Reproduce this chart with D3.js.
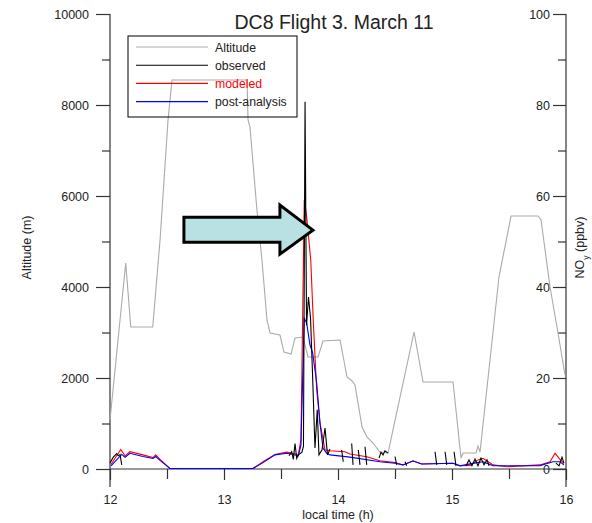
<!DOCTYPE html>
<html>
<head>
<meta charset="utf-8">
<script src="https://cdn.jsdelivr.net/npm/d3@7"></script>
<style>
  body { margin: 0; background: #fff; }
  text { font-family: "Liberation Sans", Arial, sans-serif; fill: #222; }
  .axis path, .axis line { stroke: #333; stroke-width: 1.2; }
</style>
</head>
<body>
<div id="graphic"></div>
<script>
// altitude (m) against local time (h)
var altitude = [
  [12.000, 1077], [12.138, 4527], [12.182, 3121], [12.375, 3121], [12.439, 5033],
  [12.509, 7670], [12.544, 8550], [13.202, 8550], [13.211, 7670], [13.228, 7516],
  [13.289, 5692], [13.333, 4593], [13.377, 3275], [13.404, 2989], [13.491, 2945],
  [13.526, 2571], [13.588, 2527], [13.623, 2879], [13.693, 2901], [13.737, 2462],
  [13.825, 2462], [13.868, 2813], [14.018, 2835], [14.079, 2022], [14.123, 1934],
  [14.149, 1846], [14.211, 923], [14.254, 703], [14.307, 571], [14.368, 374],
  [14.439, 352], [14.667, 3011], [14.746, 1912], [15.009, 1912], [15.079, 242],
  [15.096, 352], [15.211, 352], [15.228, 505], [15.246, 374], [15.412, 4220],
  [15.518, 5560], [15.754, 5560], [15.781, 5473], [15.860, 4000], [15.930, 2989],
  [15.991, 2066]
];

// NOy (ppbv), observed; null marks a gap in the record
var observed = [
  [12.000, 1.3], [12.029, 2.6], [12.059, 3.4], [12.073, 2.9], [12.088, 3.2], [12.103, 0.9], [12.11, null],
  [13.570, 2.9], [13.594, 3.8], [13.608, 2.1], [13.623, 5.6], [13.638, 2.3], [13.652, 3.1],
  [13.684, 3.7], [13.697, 5.0], [13.711, 80.7], [13.724, 31.6], [13.741, 37.8], [13.759, 33.2],
  [13.776, 21.3], [13.798, 4.6], [13.818, 13.0], [13.833, 3.1], [13.860, 4.2], [13.886, 9.0],
  [13.908, 3.1], [13.930, 4.4], [13.94, null],
  [14.032, 4.2], [14.046, 1.6], [14.05, null],
  [14.120, 5.6], [14.132, 0.9], [14.14, null],
  [14.178, 4.2], [14.193, 0.9], [14.20, null],
  [14.237, 4.9], [14.252, 0.9], [14.26, null],
  [14.360, 2.4], [14.377, 3.7], [14.395, 3.1], [14.412, 4.0], [14.439, 3.5], [14.45, null],
  [14.500, 2.7], [14.515, 0.9], [14.52, null],
  [14.588, 1.6], [14.603, 0.7], [14.61, null],
  [14.851, 3.8], [14.866, 0.9], [14.87, null],
  [14.939, 3.8], [14.954, 0.9], [14.96, null],
  [15.018, 3.8], [15.035, 0.7], [15.04, null],
  [15.123, 0.7], [15.149, 2.0], [15.175, 0.7], [15.202, 2.2], [15.228, 0.7], [15.254, 2.4],
  [15.281, 0.9], [15.307, 2.0], [15.325, 0.7], [15.33, null],
  [15.912, 1.3], [15.939, 0.7], [15.965, 2.6], [15.982, 1.3]
];

var modeled = [
  [12.009, 1.0], [12.094, 4.3], [12.132, 2.9], [12.175, 3.8], [12.289, 3.1], [12.377, 2.5],
  [12.401, 3.1], [12.439, 2.1], [12.526, 0.1], [13.254, 0.1], [13.342, 1.6], [13.447, 3.2],
  [13.550, 3.7], [13.608, 3.4], [13.652, 3.2], [13.675, 6.4], [13.704, 59.1], [13.725, 55.5],
  [13.761, 45.9], [13.784, 32.1], [13.813, 17.4], [13.842, 10.1], [13.886, 4.2], [13.930, 4.0],
  [14.061, 3.8], [14.105, 3.3], [14.252, 2.7], [14.368, 1.8], [14.500, 1.4], [14.570, 0.9],
  [14.658, 1.8], [14.734, 1.1], [15.009, 1.25], [15.070, 0.7], [15.158, 0.8], [15.228, 2.0],
  [15.272, 2.35], [15.360, 0.9], [15.482, 0.5], [15.772, 0.9], [15.860, 1.6], [15.904, 3.45],
  [15.947, 2.1], [15.982, 1.25]
];

var postAnalysis = [
  [12.009, 0.7], [12.103, 3.2], [12.132, 2.6], [12.175, 3.45], [12.289, 2.75], [12.377, 2.3],
  [12.401, 2.75], [12.439, 1.9], [12.526, 0.1], [13.254, 0.1], [13.342, 1.4], [13.447, 3.1],
  [13.550, 3.45], [13.608, 3.2], [13.652, 2.9], [13.675, 5.3], [13.704, 33.1], [13.725, 32.1],
  [13.754, 27.3], [13.778, 25.5], [13.813, 18.9], [13.842, 10.1], [13.868, 4.6], [13.901, 3.45],
  [13.930, 3.1], [14.105, 2.6], [14.368, 1.6], [14.500, 1.25], [14.570, 0.9], [14.658, 1.76],
  [14.734, 1.1], [15.009, 1.25], [15.070, 0.7], [15.217, 1.4], [15.272, 1.6], [15.360, 0.7],
  [15.772, 0.75], [15.886, 1.6], [15.947, 1.6], [15.982, 0.9]
];

var timeTicks = [12, 13, 14, 15, 16];
var timeMinor = [12.5, 13.5, 14.5, 15.5];
var altTicks = [0, 2000, 4000, 6000, 8000, 10000];
var altMinor = [1000, 3000, 5000, 7000, 9000];
var noyTicks = [0, 20, 40, 60, 80, 100];
var noyMinor = [10, 30, 50, 70, 90];

var legendItems = [
  { name: "Altitude", colour: "#aaaaaa", text: "#222" },
  { name: "observed", colour: "#000000", text: "#222" },
  { name: "modeled", colour: "#ff0000", text: "#ff0000" },
  { name: "post-analysis", colour: "#0000ff", text: "#222" }
];

// arrow pointing at the spike: tip position in data units
var arrowTip = [13.78, 5250];

var width = 592, height = 523;
var margin = { top: 14, right: 26, bottom: 54, left: 110 };

var svg = d3.select('#graphic').append('svg')
  .attr('width', width)
  .attr('height', height);

var x = d3.scaleLinear().domain([12, 16]).range([margin.left, width - margin.right]);
var yAlt = d3.scaleLinear().domain([0, 10000]).range([height - margin.bottom, margin.top]);
var yNoy = d3.scaleLinear().domain([0, 100]).range([height - margin.bottom, margin.top]);

var x0 = x.range()[0], x1 = x.range()[1];
var yBase = yAlt(0), yTop = yAlt(10000);

// axes
svg.append('g').attr('class', 'axis')
  .attr('transform', 'translate(' + x0 + ',0)')
  .call(d3.axisLeft(yAlt).tickValues(altTicks).tickSize(14).tickPadding(7).tickFormat(d3.format('d')))
  .call(g => g.select('.domain').remove())
  .selectAll('text').style('font-size', '12.5px').attr('fill', '#222');
svg.append('g').attr('class', 'axis')
  .attr('transform', 'translate(' + x0 + ',0)')
  .call(d3.axisLeft(yAlt).tickValues(altMinor).tickSize(8).tickFormat(''))
  .call(g => g.select('.domain').remove());

svg.append('g').attr('class', 'axis')
  .attr('transform', 'translate(' + x1 + ',0)')
  .call(d3.axisLeft(yNoy).tickValues(noyTicks).tickSize(13).tickPadding(3))
  .call(g => g.select('.domain').remove())
  .selectAll('text').style('font-size', '12.5px').attr('fill', '#222');
svg.append('g').attr('class', 'axis')
  .attr('transform', 'translate(' + x1 + ',0)')
  .call(d3.axisLeft(yNoy).tickValues(noyMinor).tickSize(8).tickFormat(''))
  .call(g => g.select('.domain').remove());

svg.append('g').attr('class', 'axis')
  .attr('transform', 'translate(0,' + yBase + ')')
  .call(d3.axisBottom(x).tickValues(timeTicks).tickSize(11).tickPadding(15).tickFormat(d3.format('d')))
  .call(g => g.select('.domain').remove())
  .selectAll('text').style('font-size', '12.5px').attr('fill', '#222');
svg.append('g').attr('class', 'axis')
  .attr('transform', 'translate(0,' + yBase + ')')
  .call(d3.axisBottom(x).tickValues(timeMinor).tickSize(10).tickFormat(''))
  .call(g => g.select('.domain').remove());

// axis lines (the verticals run a little below the baseline)
svg.append('line').attr('x1', x0).attr('x2', x1).attr('y1', yBase).attr('y2', yBase)
  .attr('stroke', '#333').attr('stroke-width', 1.2);
[x0, x1].forEach(function(xx) {
  svg.append('line').attr('x1', xx).attr('x2', xx).attr('y1', yTop).attr('y2', yBase + 18)
    .attr('stroke', '#333').attr('stroke-width', 1.2);
});

// axis titles
svg.append('text')
  .attr('transform', 'translate(31,' + (yAlt(5000) + 6) + ') rotate(-90)')
  .attr('text-anchor', 'middle')
  .style('font-size', '12.5px')
  .text('Altitude (m)');

var noyLabel = svg.append('text')
  .attr('transform', 'translate(584,' + (yNoy(50) + 6) + ') rotate(-90)')
  .attr('text-anchor', 'middle')
  .style('font-size', '12.5px');
noyLabel.append('tspan').text('NO');
noyLabel.append('tspan').attr('baseline-shift', 'sub').style('font-size', '8.5px').text('y');
noyLabel.append('tspan').text(' (ppbv)');

svg.append('text')
  .attr('x', x(14)).attr('y', 519)
  .attr('text-anchor', 'middle')
  .style('font-size', '12.5px')
  .text('local time (h)');

svg.append('text')
  .attr('x', 334).attr('y', 29)
  .attr('text-anchor', 'middle')
  .style('font-size', '19.5px')
  .text('DC8 Flight 3. March 11');

// lines
var altLine = d3.line().x(d => x(d[0])).y(d => yAlt(d[1]));
var noyLine = d3.line()
  .defined(d => d[1] !== null)
  .x(d => x(d[0])).y(d => yNoy(d[1]));

svg.append('path').datum(altitude)
  .attr('d', altLine).attr('fill', 'none').attr('stroke', '#aaaaaa').attr('stroke-width', 1.1);

svg.append('path').datum(modeled)
  .attr('d', noyLine).attr('fill', 'none').attr('stroke', '#ff0000').attr('stroke-width', 1.1);

svg.append('path').datum(postAnalysis)
  .attr('d', noyLine).attr('fill', 'none').attr('stroke', '#0000ff').attr('stroke-width', 1.1);

svg.append('path').datum(observed)
  .attr('d', noyLine).attr('fill', 'none').attr('stroke', '#000000').attr('stroke-width', 1.1);

// legend
var legend = svg.append('g').attr('transform', 'translate(128,36)');
legend.append('rect')
  .attr('width', 169).attr('height', 81)
  .attr('fill', 'none').attr('stroke', '#000').attr('stroke-width', 1);
legend.selectAll('line.key')
  .data(legendItems)
  .join('line')
  .attr('class', 'key')
  .attr('x1', 8).attr('x2', 80)
  .attr('y1', (d, i) => 11 + i * 18.2).attr('y2', (d, i) => 11 + i * 18.2)
  .attr('stroke', d => d.colour).attr('stroke-width', 1.1);
legend.selectAll('text.key')
  .data(legendItems)
  .join('text')
  .attr('class', 'key')
  .attr('x', 87)
  .attr('y', (d, i) => 15.5 + i * 18.2)
  .style('font-size', '12.3px')
  .style('fill', d => d.text)
  .text(d => d.name);

// arrow annotation
var tx = x(arrowTip[0]), ty = yAlt(arrowTip[1]);
var arrowPts = [
  [tx, ty], [tx - 33, ty - 25], [tx - 33, ty - 13], [tx - 129, ty - 13],
  [tx - 129, ty + 12], [tx - 33, ty + 12], [tx - 33, ty + 24]
];
svg.append('path')
  .attr('d', d3.line()(arrowPts) + 'Z')
  .attr('fill', '#b9e0e3')
  .attr('stroke', '#000')
  .attr('stroke-width', 3)
  .attr('stroke-linejoin', 'miter');
</script>
</body>
</html>
